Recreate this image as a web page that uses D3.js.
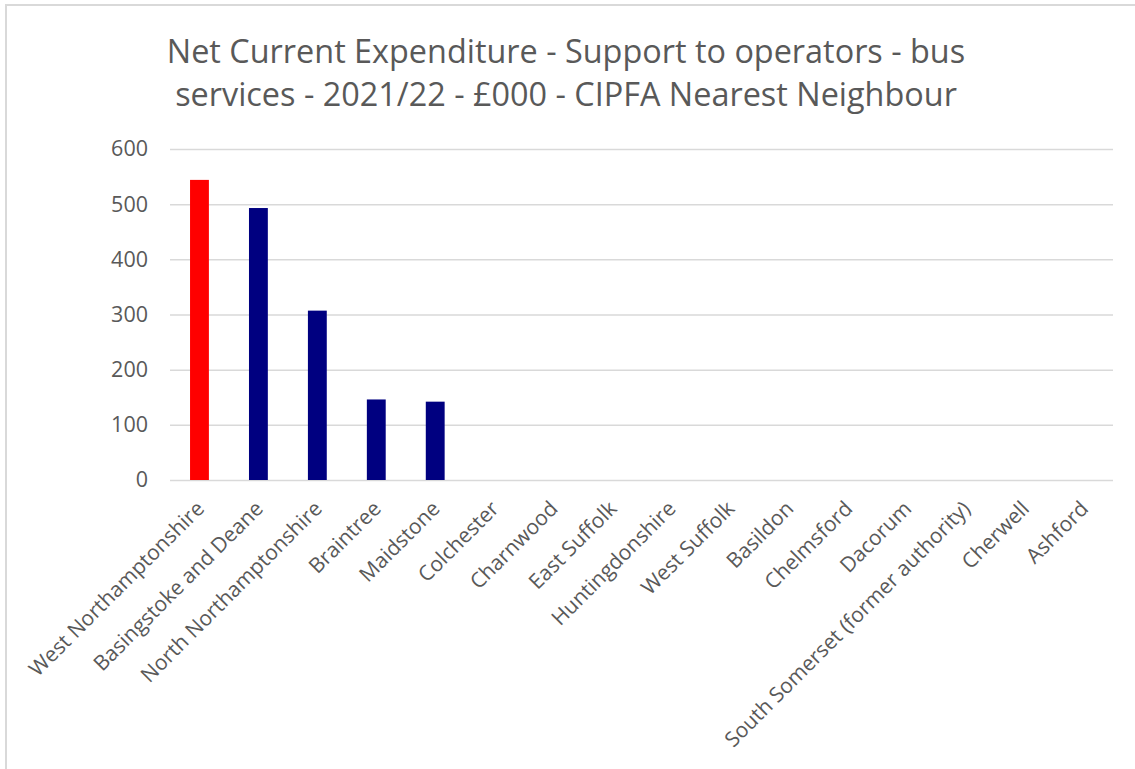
<!DOCTYPE html>
<html>
<head>
<meta charset="utf-8">
<script src="https://cdn.jsdelivr.net/npm/d3@7"></script>
<style>
  body { margin: 0; background: #fff; }
  svg { display: block; font-family: "Open Sans", Lato, sans-serif; }
</style>
</head>
<body>
<div id="chart"></div>
<script>
"use strict";

// values (£000)
var categories = [
  "West Northamptonshire", "Basingstoke and Deane", "North Northamptonshire",
  "Braintree", "Maidstone", "Colchester", "Charnwood", "East Suffolk",
  "Huntingdonshire", "West Suffolk", "Basildon", "Chelmsford", "Dacorum",
  "South Somerset (former authority)", "Cherwell", "Ashford"
];
var values = [544, 493, 307, 146, 142, 0, 0, 0, 0, 0, 0, 0, 0, 0, 0, 0];
var highlight = "West Northamptonshire";
var yTicks = [0, 100, 200, 300, 400, 500, 600];
var titleLines = [
  "Net Current Expenditure - Support to operators - bus",
  "services - 2021/22 - £000 - CIPFA Nearest Neighbour"
];

var width = 1135,
    height = 769,
    margin = { top: 149, right: 22, bottom: 289, left: 170 };

var svg = d3.select("#chart").append("svg")
    .attr("width", width)
    .attr("height", height);

// chart frame
svg.append("rect")
    .attr("x", 6).attr("y", 5)
    .attr("width", width + 10).attr("height", height + 10)
    .attr("fill", "none")
    .attr("stroke", "#d9d9d9")
    .attr("stroke-width", 2);

var x = d3.scaleBand()
    .domain(categories)
    .range([margin.left, width - margin.right])
    .paddingInner(0.68)
    .paddingOuter(0.34);

var y = d3.scaleLinear()
    .domain([0, 600])
    .range([height - margin.bottom, margin.top]);

// title
svg.append("g")
    .selectAll("text")
    .data(titleLines)
    .join("text")
    .attr("x", 566)
    .attr("y", function (d, i) { return 63 + i * 43; })
    .attr("text-anchor", "middle")
    .attr("fill", "#595959")
    .attr("font-size", "32.4px")
    .text(function (d) { return d; });

// gridlines + y labels
var yAxis = svg.append("g")
    .attr("transform", "translate(" + margin.left + ",0)")
    .call(d3.axisLeft(y).tickValues(yTicks)
      .tickSize(-(width - margin.left - margin.right))
      .tickPadding(22));
yAxis.select(".domain").remove();
yAxis.selectAll(".tick line").attr("stroke", "#d9d9d9").attr("stroke-width", 1.5);
yAxis.selectAll(".tick text")
    .attr("fill", "#595959")
    .attr("font-size", "21.5px")
    .attr("font-family", "\"Open Sans\", sans-serif");

// bars
svg.append("g")
    .selectAll("rect")
    .data(categories.map(function (c, i) { return { name: c, value: values[i] }; }))
    .join("rect")
    .attr("x", function (d) { return x(d.name); })
    .attr("y", function (d) { return y(d.value); })
    .attr("width", x.bandwidth())
    .attr("height", function (d) { return y(0) - y(d.value); })
    .attr("fill", function (d) { return d.name === highlight ? "#ff0000" : "#000080"; });

// category labels
var xAxis = svg.append("g")
    .attr("transform", "translate(0," + y(0) + ")")
    .call(d3.axisBottom(x).tickSize(0).tickPadding(0));
xAxis.select(".domain").remove();
xAxis.selectAll(".tick text")
    .attr("fill", "#595959")
    .attr("font-size", "21px")
    .attr("font-family", "\"Open Sans\", sans-serif")
    .attr("text-anchor", "end")
    .attr("dy", null)
    .attr("transform", "translate(6,30) rotate(-45)");
</script>
</body>
</html>
